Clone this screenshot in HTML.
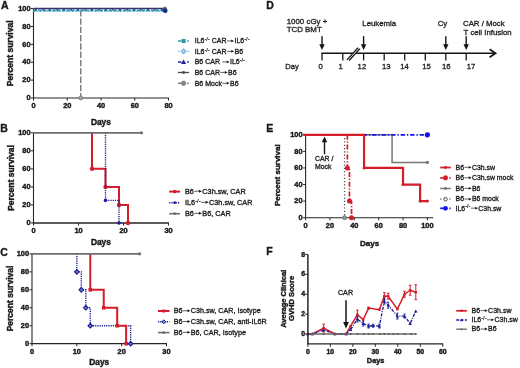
<!DOCTYPE html>
<html><head><meta charset="utf-8"><style>
html,body{margin:0;padding:0;background:#fff;}
svg{display:block;font-family:"Liberation Sans", sans-serif;will-change:transform;}
</style></head><body>
<svg width="520" height="368" viewBox="0 0 520 368">
<rect width="520" height="368" fill="#fff"/>
<text x="0.90" y="8.80" font-size="10.5" font-weight="bold" text-anchor="start" fill="#1a1a1a" stroke="#1a1a1a" stroke-width="0.35">A</text>
<line x1="33.50" y1="8.60" x2="33.50" y2="98.00" stroke="#262626" stroke-width="1.1" stroke-linecap="butt"/>
<line x1="31.00" y1="98.00" x2="33.50" y2="98.00" stroke="#262626" stroke-width="1.0" stroke-linecap="butt"/>
<text x="30.50" y="100.25" font-size="7.4" font-weight="bold" text-anchor="end" fill="#1a1a1a" stroke="#1a1a1a" stroke-width="0.42">0</text>
<line x1="31.00" y1="80.12" x2="33.50" y2="80.12" stroke="#262626" stroke-width="1.0" stroke-linecap="butt"/>
<text x="30.50" y="82.37" font-size="7.4" font-weight="bold" text-anchor="end" fill="#1a1a1a" stroke="#1a1a1a" stroke-width="0.42">20</text>
<line x1="31.00" y1="62.24" x2="33.50" y2="62.24" stroke="#262626" stroke-width="1.0" stroke-linecap="butt"/>
<text x="30.50" y="64.49" font-size="7.4" font-weight="bold" text-anchor="end" fill="#1a1a1a" stroke="#1a1a1a" stroke-width="0.42">40</text>
<line x1="31.00" y1="44.36" x2="33.50" y2="44.36" stroke="#262626" stroke-width="1.0" stroke-linecap="butt"/>
<text x="30.50" y="46.61" font-size="7.4" font-weight="bold" text-anchor="end" fill="#1a1a1a" stroke="#1a1a1a" stroke-width="0.42">60</text>
<line x1="31.00" y1="26.48" x2="33.50" y2="26.48" stroke="#262626" stroke-width="1.0" stroke-linecap="butt"/>
<text x="30.50" y="28.73" font-size="7.4" font-weight="bold" text-anchor="end" fill="#1a1a1a" stroke="#1a1a1a" stroke-width="0.42">80</text>
<line x1="31.00" y1="8.60" x2="33.50" y2="8.60" stroke="#262626" stroke-width="1.0" stroke-linecap="butt"/>
<text x="30.50" y="10.85" font-size="7.4" font-weight="bold" text-anchor="end" fill="#1a1a1a" stroke="#1a1a1a" stroke-width="0.42">100</text>
<line x1="32.95" y1="98.00" x2="169.00" y2="98.00" stroke="#262626" stroke-width="1.1" stroke-linecap="butt"/>
<line x1="33.50" y1="98.00" x2="33.50" y2="100.60" stroke="#262626" stroke-width="1.0" stroke-linecap="butt"/>
<text x="33.50" y="107.90" font-size="7.4" font-weight="bold" text-anchor="middle" fill="#1a1a1a" stroke="#1a1a1a" stroke-width="0.42">0</text>
<line x1="67.25" y1="98.00" x2="67.25" y2="100.60" stroke="#262626" stroke-width="1.0" stroke-linecap="butt"/>
<text x="67.25" y="107.90" font-size="7.4" font-weight="bold" text-anchor="middle" fill="#1a1a1a" stroke="#1a1a1a" stroke-width="0.42">20</text>
<line x1="101.00" y1="98.00" x2="101.00" y2="100.60" stroke="#262626" stroke-width="1.0" stroke-linecap="butt"/>
<text x="101.00" y="107.90" font-size="7.4" font-weight="bold" text-anchor="middle" fill="#1a1a1a" stroke="#1a1a1a" stroke-width="0.42">40</text>
<line x1="134.75" y1="98.00" x2="134.75" y2="100.60" stroke="#262626" stroke-width="1.0" stroke-linecap="butt"/>
<text x="134.75" y="107.90" font-size="7.4" font-weight="bold" text-anchor="middle" fill="#1a1a1a" stroke="#1a1a1a" stroke-width="0.42">60</text>
<line x1="168.50" y1="98.00" x2="168.50" y2="100.60" stroke="#262626" stroke-width="1.0" stroke-linecap="butt"/>
<text x="168.50" y="107.90" font-size="7.4" font-weight="bold" text-anchor="middle" fill="#1a1a1a" stroke="#1a1a1a" stroke-width="0.42">80</text>
<line x1="80.75" y1="10.10" x2="80.75" y2="98.00" stroke="#7a7a7a" stroke-width="1.4" stroke-linecap="butt" stroke-dasharray="6.4,1.9"/>
<line x1="33.50" y1="11.40" x2="163.50" y2="11.40" stroke="#7cc6ea" stroke-width="1.3" stroke-linecap="butt" stroke-dasharray="2,1.2"/>
<line x1="33.50" y1="10.30" x2="163.50" y2="10.30" stroke="#2a95a6" stroke-width="1.7" stroke-linecap="butt" stroke-dasharray="3.5,1.2"/>
<line x1="35.00" y1="9.80" x2="163.50" y2="9.80" stroke="#1c2a8c" stroke-width="1.0" stroke-linecap="butt" stroke-dasharray="2,5"/>
<line x1="33.50" y1="8.50" x2="163.50" y2="8.50" stroke="#3a3472" stroke-width="1.4" stroke-linecap="butt"/>
<circle cx="80.75" cy="98.00" r="1.9" fill="#a8a8a8" stroke="#707070" stroke-width="0.8"/>
<circle cx="165.00" cy="8.00" r="1.6" fill="#5a665e" stroke="none" stroke-width="0"/>
<circle cx="165.20" cy="10.70" r="2.4" fill="#142a88" stroke="none" stroke-width="0"/>
<text x="100.90" y="124.90" font-size="8.4" font-weight="bold" text-anchor="middle" fill="#1a1a1a" stroke="#1a1a1a" stroke-width="0.42">Days</text>
<text transform="translate(13.40,53.30) rotate(-90)" font-size="8.5" font-weight="bold" text-anchor="middle" fill="#1a1a1a" stroke="#1a1a1a" stroke-width="0.42">Percent survival</text>
<text x="194.70" y="43.30" font-size="7.0" fill="#1c1c1c" stroke="#1c1c1c" stroke-width="0.32" xml:space="preserve">IL6</text>
<text x="204.43" y="41.20" font-size="5.60" fill="#1c1c1c" stroke="#1c1c1c" stroke-width="0.22399999999999998">-/-</text>
<text x="209.72" y="43.30" font-size="7.0" fill="#1c1c1c" stroke="#1c1c1c" stroke-width="0.32" xml:space="preserve"> CAR</text>
<line x1="226.86" y1="40.92" x2="232.24" y2="40.92" stroke="#1c1c1c" stroke-width="0.7000000000000001" stroke-linecap="butt"/>
<polygon points="231.27,39.52 234.09,40.92 231.27,42.32" fill="#1c1c1c"/>
<text x="234.49" y="43.30" font-size="7.0" fill="#1c1c1c" stroke="#1c1c1c" stroke-width="0.32" xml:space="preserve">IL6</text>
<text x="244.22" y="41.20" font-size="5.60" fill="#1c1c1c" stroke="#1c1c1c" stroke-width="0.22399999999999998">-/-</text>
<text x="194.70" y="53.70" font-size="7.0" fill="#1c1c1c" stroke="#1c1c1c" stroke-width="0.32" xml:space="preserve">IL6</text>
<text x="204.43" y="51.60" font-size="5.60" fill="#1c1c1c" stroke="#1c1c1c" stroke-width="0.22399999999999998">-/-</text>
<text x="209.72" y="53.70" font-size="7.0" fill="#1c1c1c" stroke="#1c1c1c" stroke-width="0.32" xml:space="preserve"> CAR</text>
<line x1="226.86" y1="51.32" x2="232.24" y2="51.32" stroke="#1c1c1c" stroke-width="0.7000000000000001" stroke-linecap="butt"/>
<polygon points="231.27,49.92 234.09,51.32 231.27,52.72" fill="#1c1c1c"/>
<text x="234.49" y="53.70" font-size="7.0" fill="#1c1c1c" stroke="#1c1c1c" stroke-width="0.32" xml:space="preserve">B6</text>
<text x="194.70" y="64.30" font-size="7.0" fill="#1c1c1c" stroke="#1c1c1c" stroke-width="0.32" xml:space="preserve">B6 CAR </text>
<line x1="222.35" y1="61.92" x2="227.73" y2="61.92" stroke="#1c1c1c" stroke-width="0.7000000000000001" stroke-linecap="butt"/>
<polygon points="226.76,60.52 229.58,61.92 226.76,63.32" fill="#1c1c1c"/>
<text x="229.98" y="64.30" font-size="7.0" fill="#1c1c1c" stroke="#1c1c1c" stroke-width="0.32" xml:space="preserve">IL6</text>
<text x="239.71" y="62.20" font-size="5.60" fill="#1c1c1c" stroke="#1c1c1c" stroke-width="0.22399999999999998">-/-</text>
<text x="194.70" y="74.80" font-size="7.0" fill="#1c1c1c" stroke="#1c1c1c" stroke-width="0.32" xml:space="preserve">B6 CAR</text>
<line x1="220.41" y1="72.42" x2="225.78" y2="72.42" stroke="#1c1c1c" stroke-width="0.7000000000000001" stroke-linecap="butt"/>
<polygon points="224.82,71.02 227.63,72.42 224.82,73.82" fill="#1c1c1c"/>
<text x="228.04" y="74.80" font-size="7.0" fill="#1c1c1c" stroke="#1c1c1c" stroke-width="0.32" xml:space="preserve">B6</text>
<text x="194.70" y="85.60" font-size="7.0" fill="#1c1c1c" stroke="#1c1c1c" stroke-width="0.32" xml:space="preserve">B6 Mock</text>
<line x1="222.35" y1="83.22" x2="227.73" y2="83.22" stroke="#1c1c1c" stroke-width="0.7000000000000001" stroke-linecap="butt"/>
<polygon points="226.76,81.82 229.58,83.22 226.76,84.62" fill="#1c1c1c"/>
<text x="229.98" y="85.60" font-size="7.0" fill="#1c1c1c" stroke="#1c1c1c" stroke-width="0.32" xml:space="preserve">B6</text>
<line x1="178.00" y1="41.00" x2="181.50" y2="41.00" stroke="#2a95a6" stroke-width="1.5" stroke-linecap="butt"/>
<line x1="187.20" y1="41.00" x2="188.80" y2="41.00" stroke="#2a95a6" stroke-width="1.5" stroke-linecap="butt"/>
<rect x="181.60" y="39.00" width="4.0" height="4.0" fill="#2a95a6"/>
<line x1="178.00" y1="51.40" x2="179.30" y2="51.40" stroke="#6ab0e4" stroke-width="1.3" stroke-linecap="butt"/>
<line x1="187.50" y1="51.40" x2="188.80" y2="51.40" stroke="#6ab0e4" stroke-width="1.3" stroke-linecap="butt"/>
<polygon points="183.60,49.00 186.00,51.40 183.60,53.80 181.20,51.40" fill="#b8d8f2" stroke="#6ab0e4" stroke-width="1.1"/>
<line x1="178.00" y1="62.00" x2="181.50" y2="62.00" stroke="#1d1d98" stroke-width="1.5" stroke-linecap="butt"/>
<line x1="187.20" y1="62.00" x2="188.80" y2="62.00" stroke="#1d1d98" stroke-width="1.5" stroke-linecap="butt"/>
<polygon points="183.60,59.50 186.10,64.00 181.10,64.00" fill="#1d1d98"/>
<line x1="178.00" y1="72.50" x2="181.50" y2="72.50" stroke="#4a4a4a" stroke-width="1.3" stroke-linecap="butt"/>
<line x1="185.50" y1="72.50" x2="189.00" y2="72.50" stroke="#4a4a4a" stroke-width="1.3" stroke-linecap="butt"/>
<line x1="181.00" y1="72.50" x2="186.00" y2="72.50" stroke="#4a4a4a" stroke-width="1.3" stroke-linecap="butt"/>
<circle cx="183.60" cy="72.50" r="1.4" fill="#4a4a4a" stroke="none" stroke-width="0"/>
<line x1="178.00" y1="83.30" x2="181.50" y2="83.30" stroke="#7a7a7a" stroke-width="1.5" stroke-linecap="butt"/>
<line x1="187.20" y1="83.30" x2="188.80" y2="83.30" stroke="#7a7a7a" stroke-width="1.5" stroke-linecap="butt"/>
<circle cx="183.60" cy="83.30" r="2.2" fill="#8a8a8a" stroke="#666" stroke-width="0.6"/>
<text x="0.30" y="132.30" font-size="10.5" font-weight="bold" text-anchor="start" fill="#1a1a1a" stroke="#1a1a1a" stroke-width="0.35">B</text>
<line x1="33.50" y1="132.80" x2="33.50" y2="222.95" stroke="#262626" stroke-width="1.1" stroke-linecap="butt"/>
<line x1="31.00" y1="222.95" x2="33.50" y2="222.95" stroke="#262626" stroke-width="1.0" stroke-linecap="butt"/>
<text x="30.50" y="225.20" font-size="7.4" font-weight="bold" text-anchor="end" fill="#1a1a1a" stroke="#1a1a1a" stroke-width="0.42">0</text>
<line x1="31.00" y1="204.92" x2="33.50" y2="204.92" stroke="#262626" stroke-width="1.0" stroke-linecap="butt"/>
<text x="30.50" y="207.17" font-size="7.4" font-weight="bold" text-anchor="end" fill="#1a1a1a" stroke="#1a1a1a" stroke-width="0.42">20</text>
<line x1="31.00" y1="186.89" x2="33.50" y2="186.89" stroke="#262626" stroke-width="1.0" stroke-linecap="butt"/>
<text x="30.50" y="189.14" font-size="7.4" font-weight="bold" text-anchor="end" fill="#1a1a1a" stroke="#1a1a1a" stroke-width="0.42">40</text>
<line x1="31.00" y1="168.86" x2="33.50" y2="168.86" stroke="#262626" stroke-width="1.0" stroke-linecap="butt"/>
<text x="30.50" y="171.11" font-size="7.4" font-weight="bold" text-anchor="end" fill="#1a1a1a" stroke="#1a1a1a" stroke-width="0.42">60</text>
<line x1="31.00" y1="150.83" x2="33.50" y2="150.83" stroke="#262626" stroke-width="1.0" stroke-linecap="butt"/>
<text x="30.50" y="153.08" font-size="7.4" font-weight="bold" text-anchor="end" fill="#1a1a1a" stroke="#1a1a1a" stroke-width="0.42">80</text>
<line x1="31.00" y1="132.80" x2="33.50" y2="132.80" stroke="#262626" stroke-width="1.0" stroke-linecap="butt"/>
<text x="30.50" y="135.05" font-size="7.4" font-weight="bold" text-anchor="end" fill="#1a1a1a" stroke="#1a1a1a" stroke-width="0.42">100</text>
<line x1="32.95" y1="222.95" x2="169.00" y2="222.95" stroke="#262626" stroke-width="1.5" stroke-linecap="butt"/>
<line x1="33.50" y1="222.95" x2="33.50" y2="225.55" stroke="#262626" stroke-width="1.0" stroke-linecap="butt"/>
<text x="33.50" y="232.85" font-size="7.4" font-weight="bold" text-anchor="middle" fill="#1a1a1a" stroke="#1a1a1a" stroke-width="0.42">0</text>
<line x1="78.50" y1="222.95" x2="78.50" y2="225.55" stroke="#262626" stroke-width="1.0" stroke-linecap="butt"/>
<text x="78.50" y="232.85" font-size="7.4" font-weight="bold" text-anchor="middle" fill="#1a1a1a" stroke="#1a1a1a" stroke-width="0.42">10</text>
<line x1="123.50" y1="222.95" x2="123.50" y2="225.55" stroke="#262626" stroke-width="1.0" stroke-linecap="butt"/>
<text x="123.50" y="232.85" font-size="7.4" font-weight="bold" text-anchor="middle" fill="#1a1a1a" stroke="#1a1a1a" stroke-width="0.42">20</text>
<line x1="168.50" y1="222.95" x2="168.50" y2="225.55" stroke="#262626" stroke-width="1.0" stroke-linecap="butt"/>
<text x="168.50" y="232.85" font-size="7.4" font-weight="bold" text-anchor="middle" fill="#1a1a1a" stroke="#1a1a1a" stroke-width="0.42">30</text>
<polyline points="92.00,132.80 92.00,132.80 92.00,132.80 92.00,168.86 105.50,168.86 105.50,186.89 119.00,186.89 119.00,204.92 128.00,204.92 128.00,222.95" fill="none" stroke="#d41d2a" stroke-width="2.0" stroke-linejoin="miter"/>
<circle cx="92.00" cy="168.86" r="2.2" fill="#d41d2a" stroke="none" stroke-width="0"/>
<circle cx="105.50" cy="186.89" r="2.2" fill="#d41d2a" stroke="none" stroke-width="0"/>
<circle cx="119.00" cy="204.92" r="2.2" fill="#d41d2a" stroke="none" stroke-width="0"/>
<circle cx="128.00" cy="222.95" r="2.2" fill="#d41d2a" stroke="none" stroke-width="0"/>
<polyline points="105.50,132.80 105.50,132.80 105.50,200.41 119.00,200.41 119.00,222.95" fill="none" stroke="#1d1d98" stroke-width="1.4" stroke-linejoin="miter" stroke-dasharray="1.2,1.0"/>
<circle cx="105.50" cy="200.41" r="1.8" fill="#1d1d98" stroke="none" stroke-width="0"/>
<circle cx="119.00" cy="222.95" r="1.8" fill="#1d1d98" stroke="none" stroke-width="0"/>
<line x1="33.50" y1="132.80" x2="141.50" y2="132.80" stroke="#6c6c6c" stroke-width="1.7" stroke-linecap="butt"/>
<circle cx="141.50" cy="132.80" r="1.6" fill="#6c6c6c" stroke="none" stroke-width="0"/>
<text x="100.90" y="244.50" font-size="8.4" font-weight="bold" text-anchor="middle" fill="#1a1a1a" stroke="#1a1a1a" stroke-width="0.42">Days</text>
<text transform="translate(13.60,178.00) rotate(-90)" font-size="8.5" font-weight="bold" text-anchor="middle" fill="#1a1a1a" stroke="#1a1a1a" stroke-width="0.42">Percent survival</text>
<line x1="169.20" y1="191.60" x2="180.10" y2="191.60" stroke="#d41d2a" stroke-width="2.0" stroke-linecap="butt"/>
<circle cx="174.70" cy="191.60" r="1.8" fill="#d41d2a" stroke="none" stroke-width="0"/>
<line x1="169.20" y1="202.70" x2="180.10" y2="202.70" stroke="#1d1d98" stroke-width="1.4" stroke-linecap="butt" stroke-dasharray="1.2,1.0"/>
<circle cx="174.70" cy="202.70" r="1.4" fill="#1d1d98" stroke="none" stroke-width="0"/>
<line x1="169.20" y1="213.70" x2="180.10" y2="213.70" stroke="#6c6c6c" stroke-width="1.6" stroke-linecap="butt"/>
<circle cx="174.70" cy="213.70" r="1.4" fill="#6c6c6c" stroke="none" stroke-width="0"/>
<text x="185.00" y="193.70" font-size="7.3" fill="#1c1c1c" stroke="#1c1c1c" stroke-width="0.32" xml:space="preserve">B6</text>
<line x1="194.37" y1="191.22" x2="199.97" y2="191.22" stroke="#1c1c1c" stroke-width="0.73" stroke-linecap="butt"/>
<polygon points="198.97,189.76 201.90,191.22 198.97,192.68" fill="#1c1c1c"/>
<text x="202.32" y="193.70" font-size="7.3" fill="#1c1c1c" stroke="#1c1c1c" stroke-width="0.32" xml:space="preserve">C3h.sw, CAR</text>
<text x="185.00" y="204.80" font-size="7.3" fill="#1c1c1c" stroke="#1c1c1c" stroke-width="0.32" xml:space="preserve">IL6</text>
<text x="195.15" y="202.61" font-size="5.84" fill="#1c1c1c" stroke="#1c1c1c" stroke-width="0.22399999999999998">-/-</text>
<line x1="201.10" y1="202.32" x2="206.70" y2="202.32" stroke="#1c1c1c" stroke-width="0.73" stroke-linecap="butt"/>
<polygon points="205.70,200.86 208.64,202.32 205.70,203.78" fill="#1c1c1c"/>
<text x="209.06" y="204.80" font-size="7.3" fill="#1c1c1c" stroke="#1c1c1c" stroke-width="0.32" xml:space="preserve">C3h.sw, CAR</text>
<text x="185.00" y="215.80" font-size="7.3" fill="#1c1c1c" stroke="#1c1c1c" stroke-width="0.32" xml:space="preserve">B6</text>
<line x1="194.37" y1="213.32" x2="199.97" y2="213.32" stroke="#1c1c1c" stroke-width="0.73" stroke-linecap="butt"/>
<polygon points="198.97,211.86 201.90,213.32 198.97,214.78" fill="#1c1c1c"/>
<text x="202.32" y="215.80" font-size="7.3" fill="#1c1c1c" stroke="#1c1c1c" stroke-width="0.32" xml:space="preserve">B6, CAR</text>
<text x="0.20" y="255.50" font-size="10.5" font-weight="bold" text-anchor="start" fill="#1a1a1a" stroke="#1a1a1a" stroke-width="0.35">C</text>
<line x1="32.00" y1="253.90" x2="32.00" y2="343.70" stroke="#262626" stroke-width="1.1" stroke-linecap="butt"/>
<line x1="29.50" y1="343.70" x2="32.00" y2="343.70" stroke="#262626" stroke-width="1.0" stroke-linecap="butt"/>
<text x="29.00" y="345.95" font-size="7.4" font-weight="bold" text-anchor="end" fill="#1a1a1a" stroke="#1a1a1a" stroke-width="0.42">0</text>
<line x1="29.50" y1="325.74" x2="32.00" y2="325.74" stroke="#262626" stroke-width="1.0" stroke-linecap="butt"/>
<text x="29.00" y="327.99" font-size="7.4" font-weight="bold" text-anchor="end" fill="#1a1a1a" stroke="#1a1a1a" stroke-width="0.42">20</text>
<line x1="29.50" y1="307.78" x2="32.00" y2="307.78" stroke="#262626" stroke-width="1.0" stroke-linecap="butt"/>
<text x="29.00" y="310.03" font-size="7.4" font-weight="bold" text-anchor="end" fill="#1a1a1a" stroke="#1a1a1a" stroke-width="0.42">40</text>
<line x1="29.50" y1="289.82" x2="32.00" y2="289.82" stroke="#262626" stroke-width="1.0" stroke-linecap="butt"/>
<text x="29.00" y="292.07" font-size="7.4" font-weight="bold" text-anchor="end" fill="#1a1a1a" stroke="#1a1a1a" stroke-width="0.42">60</text>
<line x1="29.50" y1="271.86" x2="32.00" y2="271.86" stroke="#262626" stroke-width="1.0" stroke-linecap="butt"/>
<text x="29.00" y="274.11" font-size="7.4" font-weight="bold" text-anchor="end" fill="#1a1a1a" stroke="#1a1a1a" stroke-width="0.42">80</text>
<line x1="29.50" y1="253.90" x2="32.00" y2="253.90" stroke="#262626" stroke-width="1.0" stroke-linecap="butt"/>
<text x="29.00" y="256.15" font-size="7.4" font-weight="bold" text-anchor="end" fill="#1a1a1a" stroke="#1a1a1a" stroke-width="0.42">100</text>
<line x1="31.45" y1="343.70" x2="166.99" y2="343.70" stroke="#262626" stroke-width="1.3" stroke-linecap="butt"/>
<line x1="32.00" y1="343.70" x2="32.00" y2="346.30" stroke="#262626" stroke-width="1.0" stroke-linecap="butt"/>
<text x="32.00" y="353.60" font-size="7.4" font-weight="bold" text-anchor="middle" fill="#1a1a1a" stroke="#1a1a1a" stroke-width="0.42">0</text>
<line x1="76.83" y1="343.70" x2="76.83" y2="346.30" stroke="#262626" stroke-width="1.0" stroke-linecap="butt"/>
<text x="76.83" y="353.60" font-size="7.4" font-weight="bold" text-anchor="middle" fill="#1a1a1a" stroke="#1a1a1a" stroke-width="0.42">10</text>
<line x1="121.66" y1="343.70" x2="121.66" y2="346.30" stroke="#262626" stroke-width="1.0" stroke-linecap="butt"/>
<text x="121.66" y="353.60" font-size="7.4" font-weight="bold" text-anchor="middle" fill="#1a1a1a" stroke="#1a1a1a" stroke-width="0.42">20</text>
<line x1="166.49" y1="343.70" x2="166.49" y2="346.30" stroke="#262626" stroke-width="1.0" stroke-linecap="butt"/>
<text x="166.49" y="353.60" font-size="7.4" font-weight="bold" text-anchor="middle" fill="#1a1a1a" stroke="#1a1a1a" stroke-width="0.42">30</text>
<polyline points="76.83,253.90 76.83,253.90 76.83,271.86 81.31,271.86 81.31,289.82 85.80,289.82 85.80,307.78 90.28,307.78 90.28,325.74 130.63,325.74 130.63,343.70" fill="none" stroke="#1d1d98" stroke-width="1.4" stroke-linejoin="miter" stroke-dasharray="1.2,1.0"/>
<polyline points="90.28,253.90 90.28,253.90 90.28,253.90 90.28,289.82 103.73,289.82 103.73,307.78 117.18,307.78 117.18,325.74 126.14,325.74 126.14,343.70" fill="none" stroke="#d41d2a" stroke-width="2.0" stroke-linejoin="miter"/>
<rect x="88.48" y="288.02" width="3.6" height="3.6" fill="#d41d2a"/>
<rect x="101.93" y="305.98" width="3.6" height="3.6" fill="#d41d2a"/>
<rect x="115.38" y="323.94" width="3.6" height="3.6" fill="#d41d2a"/>
<rect x="124.34" y="341.90" width="3.6" height="3.6" fill="#d41d2a"/>
<polygon points="76.83,269.56 79.13,271.86 76.83,274.16 74.53,271.86" fill="#6c78cc" stroke="#1d1d98" stroke-width="1.1"/>
<polygon points="81.31,287.52 83.61,289.82 81.31,292.12 79.01,289.82" fill="#6c78cc" stroke="#1d1d98" stroke-width="1.1"/>
<polygon points="85.80,305.48 88.10,307.78 85.80,310.08 83.50,307.78" fill="#6c78cc" stroke="#1d1d98" stroke-width="1.1"/>
<polygon points="90.28,323.44 92.58,325.74 90.28,328.04 87.98,325.74" fill="#6c78cc" stroke="#1d1d98" stroke-width="1.1"/>
<polygon points="130.63,341.40 132.93,343.70 130.63,346.00 128.33,343.70" fill="#6c78cc" stroke="#1d1d98" stroke-width="1.1"/>
<line x1="32.00" y1="253.90" x2="139.59" y2="253.90" stroke="#6c6c6c" stroke-width="1.7" stroke-linecap="butt"/>
<circle cx="139.59" cy="253.90" r="1.6" fill="#6c6c6c" stroke="none" stroke-width="0"/>
<text x="99.20" y="365.00" font-size="8.4" font-weight="bold" text-anchor="middle" fill="#1a1a1a" stroke="#1a1a1a" stroke-width="0.42">Days</text>
<text transform="translate(12.50,298.50) rotate(-90)" font-size="8.5" font-weight="bold" text-anchor="middle" fill="#1a1a1a" stroke="#1a1a1a" stroke-width="0.42">Percent survival</text>
<line x1="158.00" y1="311.00" x2="169.50" y2="311.00" stroke="#d41d2a" stroke-width="2.0" stroke-linecap="butt"/>
<rect x="162.20" y="309.50" width="3.0" height="3.0" fill="#d41d2a"/>
<line x1="158.00" y1="321.80" x2="169.50" y2="321.80" stroke="#1d1d98" stroke-width="1.4" stroke-linecap="butt" stroke-dasharray="1.2,1.0"/>
<polygon points="163.70,319.80 165.70,321.80 163.70,323.80 161.70,321.80" fill="#7c88d4" stroke="#1d1d98" stroke-width="1.0"/>
<line x1="158.00" y1="332.60" x2="169.50" y2="332.60" stroke="#6c6c6c" stroke-width="1.6" stroke-linecap="butt"/>
<circle cx="163.70" cy="332.60" r="1.4" fill="#6c6c6c" stroke="none" stroke-width="0"/>
<text x="173.70" y="313.20" font-size="7.2" fill="#1c1c1c" stroke="#1c1c1c" stroke-width="0.32" xml:space="preserve">B6</text>
<line x1="182.94" y1="310.75" x2="188.47" y2="310.75" stroke="#1c1c1c" stroke-width="0.7200000000000001" stroke-linecap="butt"/>
<polygon points="187.48,309.31 190.37,310.75 187.48,312.19" fill="#1c1c1c"/>
<text x="190.79" y="313.20" font-size="7.2" fill="#1c1c1c" stroke="#1c1c1c" stroke-width="0.32" xml:space="preserve">C3h.sw, CAR, Isotype</text>
<text x="173.70" y="324.00" font-size="7.2" fill="#1c1c1c" stroke="#1c1c1c" stroke-width="0.32" xml:space="preserve">B6</text>
<line x1="182.94" y1="321.55" x2="188.47" y2="321.55" stroke="#1c1c1c" stroke-width="0.7200000000000001" stroke-linecap="butt"/>
<polygon points="187.48,320.11 190.37,321.55 187.48,322.99" fill="#1c1c1c"/>
<text x="190.79" y="324.00" font-size="7.2" fill="#1c1c1c" stroke="#1c1c1c" stroke-width="0.32" xml:space="preserve">C3h.sw, CAR, anti-IL6R</text>
<text x="173.70" y="334.80" font-size="7.2" fill="#1c1c1c" stroke="#1c1c1c" stroke-width="0.32" xml:space="preserve">B6</text>
<line x1="182.94" y1="332.35" x2="188.47" y2="332.35" stroke="#1c1c1c" stroke-width="0.7200000000000001" stroke-linecap="butt"/>
<polygon points="187.48,330.91 190.37,332.35 187.48,333.79" fill="#1c1c1c"/>
<text x="190.79" y="334.80" font-size="7.2" fill="#1c1c1c" stroke="#1c1c1c" stroke-width="0.32" xml:space="preserve">B6, CAR, Isotype</text>
<text x="266.30" y="9.00" font-size="10.5" font-weight="bold" text-anchor="start" fill="#1a1a1a" stroke="#1a1a1a" stroke-width="0.35">D</text>
<line x1="321.30" y1="53.20" x2="494.00" y2="53.20" stroke="#141414" stroke-width="1.6" stroke-linecap="butt"/>
<polyline points="489.6,49.2 495.6,53.2 489.6,57.2" fill="none" stroke="#141414" stroke-width="1.7"/>
<line x1="322.00" y1="53.20" x2="322.00" y2="60.40" stroke="#141414" stroke-width="1.3" stroke-linecap="butt"/>
<text x="320.60" y="69.20" font-size="7.7" font-weight="normal" text-anchor="middle" fill="#1e1e1e" stroke="#1e1e1e" stroke-width="0.32">0</text>
<line x1="342.80" y1="53.20" x2="342.80" y2="60.40" stroke="#141414" stroke-width="1.3" stroke-linecap="butt"/>
<text x="340.70" y="69.20" font-size="7.7" font-weight="normal" text-anchor="middle" fill="#1e1e1e" stroke="#1e1e1e" stroke-width="0.32">1</text>
<line x1="363.60" y1="53.20" x2="363.60" y2="60.40" stroke="#141414" stroke-width="1.3" stroke-linecap="butt"/>
<text x="361.90" y="69.20" font-size="7.7" font-weight="normal" text-anchor="middle" fill="#1e1e1e" stroke="#1e1e1e" stroke-width="0.32">12</text>
<line x1="384.20" y1="53.20" x2="384.20" y2="60.40" stroke="#141414" stroke-width="1.3" stroke-linecap="butt"/>
<text x="386.20" y="69.20" font-size="7.7" font-weight="normal" text-anchor="middle" fill="#1e1e1e" stroke="#1e1e1e" stroke-width="0.32">13</text>
<line x1="404.70" y1="53.20" x2="404.70" y2="60.40" stroke="#141414" stroke-width="1.3" stroke-linecap="butt"/>
<text x="404.50" y="69.20" font-size="7.7" font-weight="normal" text-anchor="middle" fill="#1e1e1e" stroke="#1e1e1e" stroke-width="0.32">14</text>
<line x1="425.30" y1="53.20" x2="425.30" y2="60.40" stroke="#141414" stroke-width="1.3" stroke-linecap="butt"/>
<text x="426.50" y="69.20" font-size="7.7" font-weight="normal" text-anchor="middle" fill="#1e1e1e" stroke="#1e1e1e" stroke-width="0.32">15</text>
<line x1="445.80" y1="53.20" x2="445.80" y2="60.40" stroke="#141414" stroke-width="1.3" stroke-linecap="butt"/>
<text x="446.30" y="69.20" font-size="7.7" font-weight="normal" text-anchor="middle" fill="#1e1e1e" stroke="#1e1e1e" stroke-width="0.32">16</text>
<line x1="466.20" y1="53.20" x2="466.20" y2="60.40" stroke="#141414" stroke-width="1.3" stroke-linecap="butt"/>
<text x="471.10" y="69.20" font-size="7.7" font-weight="normal" text-anchor="middle" fill="#1e1e1e" stroke="#1e1e1e" stroke-width="0.32">17</text>
<text x="285.30" y="69.20" font-size="7.6" font-weight="normal" text-anchor="start" fill="#1e1e1e" stroke="#1e1e1e" stroke-width="0.32">Day</text>
<line x1="347.90" y1="60.20" x2="359.10" y2="48.10" stroke="#fff" stroke-width="2.6" stroke-linecap="butt"/>
<line x1="346.90" y1="59.90" x2="358.10" y2="47.70" stroke="#141414" stroke-width="1.3" stroke-linecap="butt"/>
<line x1="349.10" y1="60.50" x2="360.00" y2="48.60" stroke="#141414" stroke-width="1.3" stroke-linecap="butt"/>
<line x1="322.00" y1="36.20" x2="322.00" y2="47.00" stroke="#141414" stroke-width="1.4" stroke-linecap="butt"/>
<polygon points="319.30,44.20 324.70,44.20 322.00,50.00" fill="#141414"/>
<line x1="363.60" y1="36.20" x2="363.60" y2="47.00" stroke="#141414" stroke-width="1.4" stroke-linecap="butt"/>
<polygon points="360.90,44.20 366.30,44.20 363.60,50.00" fill="#141414"/>
<line x1="445.80" y1="36.20" x2="445.80" y2="47.00" stroke="#141414" stroke-width="1.4" stroke-linecap="butt"/>
<polygon points="443.10,44.20 448.50,44.20 445.80,50.00" fill="#141414"/>
<line x1="466.20" y1="36.20" x2="466.20" y2="47.00" stroke="#141414" stroke-width="1.4" stroke-linecap="butt"/>
<polygon points="463.50,44.20 468.90,44.20 466.20,50.00" fill="#141414"/>
<text x="286.70" y="23.50" font-size="7.9" font-weight="normal" text-anchor="start" fill="#1e1e1e" stroke="#1e1e1e" stroke-width="0.32">1000 cGy +</text>
<text x="286.70" y="31.80" font-size="7.9" font-weight="normal" text-anchor="start" fill="#1e1e1e" stroke="#1e1e1e" stroke-width="0.32">TCD BMT</text>
<text x="362.30" y="26.00" font-size="7.8" font-weight="normal" text-anchor="start" fill="#1e1e1e" stroke="#1e1e1e" stroke-width="0.32">Leukemia</text>
<text x="437.70" y="25.90" font-size="7.8" font-weight="normal" text-anchor="start" fill="#1e1e1e" stroke="#1e1e1e" stroke-width="0.32">Cy</text>
<text x="463.00" y="25.90" font-size="7.8" font-weight="normal" text-anchor="start" fill="#1e1e1e" stroke="#1e1e1e" stroke-width="0.32">CAR / Mock</text>
<text x="463.60" y="34.70" font-size="7.8" font-weight="normal" text-anchor="start" fill="#1e1e1e" stroke="#1e1e1e" stroke-width="0.32">T cell Infusion</text>
<text x="266.30" y="132.40" font-size="10.5" font-weight="bold" text-anchor="start" fill="#1a1a1a" stroke="#1a1a1a" stroke-width="0.35">E</text>
<line x1="305.60" y1="134.80" x2="305.60" y2="217.70" stroke="#262626" stroke-width="1.1" stroke-linecap="butt"/>
<line x1="303.10" y1="217.70" x2="305.60" y2="217.70" stroke="#262626" stroke-width="1.0" stroke-linecap="butt"/>
<text x="302.60" y="219.95" font-size="7.4" font-weight="bold" text-anchor="end" fill="#1a1a1a" stroke="#1a1a1a" stroke-width="0.42">0</text>
<line x1="303.10" y1="201.12" x2="305.60" y2="201.12" stroke="#262626" stroke-width="1.0" stroke-linecap="butt"/>
<text x="302.60" y="203.37" font-size="7.4" font-weight="bold" text-anchor="end" fill="#1a1a1a" stroke="#1a1a1a" stroke-width="0.42">20</text>
<line x1="303.10" y1="184.54" x2="305.60" y2="184.54" stroke="#262626" stroke-width="1.0" stroke-linecap="butt"/>
<text x="302.60" y="186.79" font-size="7.4" font-weight="bold" text-anchor="end" fill="#1a1a1a" stroke="#1a1a1a" stroke-width="0.42">40</text>
<line x1="303.10" y1="167.96" x2="305.60" y2="167.96" stroke="#262626" stroke-width="1.0" stroke-linecap="butt"/>
<text x="302.60" y="170.21" font-size="7.4" font-weight="bold" text-anchor="end" fill="#1a1a1a" stroke="#1a1a1a" stroke-width="0.42">60</text>
<line x1="303.10" y1="151.38" x2="305.60" y2="151.38" stroke="#262626" stroke-width="1.0" stroke-linecap="butt"/>
<text x="302.60" y="153.63" font-size="7.4" font-weight="bold" text-anchor="end" fill="#1a1a1a" stroke="#1a1a1a" stroke-width="0.42">80</text>
<line x1="303.10" y1="134.80" x2="305.60" y2="134.80" stroke="#262626" stroke-width="1.0" stroke-linecap="butt"/>
<text x="302.60" y="137.05" font-size="7.4" font-weight="bold" text-anchor="end" fill="#1a1a1a" stroke="#1a1a1a" stroke-width="0.42">100</text>
<line x1="305.05" y1="217.70" x2="433.30" y2="217.70" stroke="#262626" stroke-width="1.1" stroke-linecap="butt"/>
<line x1="305.60" y1="217.70" x2="305.60" y2="220.30" stroke="#262626" stroke-width="1.0" stroke-linecap="butt"/>
<text x="305.60" y="227.60" font-size="7.4" font-weight="bold" text-anchor="middle" fill="#1a1a1a" stroke="#1a1a1a" stroke-width="0.42">0</text>
<line x1="329.96" y1="217.70" x2="329.96" y2="220.30" stroke="#262626" stroke-width="1.0" stroke-linecap="butt"/>
<text x="329.96" y="227.60" font-size="7.4" font-weight="bold" text-anchor="middle" fill="#1a1a1a" stroke="#1a1a1a" stroke-width="0.42">20</text>
<line x1="354.32" y1="217.70" x2="354.32" y2="220.30" stroke="#262626" stroke-width="1.0" stroke-linecap="butt"/>
<text x="354.32" y="227.60" font-size="7.4" font-weight="bold" text-anchor="middle" fill="#1a1a1a" stroke="#1a1a1a" stroke-width="0.42">40</text>
<line x1="378.68" y1="217.70" x2="378.68" y2="220.30" stroke="#262626" stroke-width="1.0" stroke-linecap="butt"/>
<text x="378.68" y="227.60" font-size="7.4" font-weight="bold" text-anchor="middle" fill="#1a1a1a" stroke="#1a1a1a" stroke-width="0.42">60</text>
<line x1="403.04" y1="217.70" x2="403.04" y2="220.30" stroke="#262626" stroke-width="1.0" stroke-linecap="butt"/>
<text x="403.04" y="227.60" font-size="7.4" font-weight="bold" text-anchor="middle" fill="#1a1a1a" stroke="#1a1a1a" stroke-width="0.42">80</text>
<line x1="427.40" y1="217.70" x2="427.40" y2="220.30" stroke="#262626" stroke-width="1.0" stroke-linecap="butt"/>
<text x="427.40" y="227.60" font-size="7.4" font-weight="bold" text-anchor="middle" fill="#1a1a1a" stroke="#1a1a1a" stroke-width="0.42">100</text>
<polyline points="305.60,134.80 392.08,134.80 392.08,162.41 427.40,162.41 427.40,162.41" fill="none" stroke="#777" stroke-width="1.5" stroke-linejoin="miter"/>
<circle cx="427.40" cy="162.41" r="1.6" fill="#777" stroke="none" stroke-width="0"/>
<line x1="305.60" y1="134.80" x2="427.40" y2="134.80" stroke="#1414e6" stroke-width="1.7" stroke-linecap="butt" stroke-dasharray="4.5,1.8,1.4,1.8"/>
<circle cx="427.40" cy="134.80" r="2.6" fill="#1414e6" stroke="none" stroke-width="0"/>
<line x1="344.58" y1="134.80" x2="344.58" y2="217.70" stroke="#505050" stroke-width="1.3" stroke-linecap="butt" stroke-dasharray="1.2,2.1"/>
<circle cx="344.58" cy="217.70" r="1.9" fill="#a0a0a0" stroke="#606060" stroke-width="0.9"/>
<polyline points="347.38,134.80 347.38,134.80 347.38,167.96 349.45,167.96 349.45,201.12 351.52,201.12 351.52,217.70" fill="none" stroke="#d41d2a" stroke-width="1.7" stroke-linejoin="bevel" stroke-dasharray="5,1.8,1.2,1.8"/>
<circle cx="347.38" cy="167.96" r="2.5" fill="#d41d2a" stroke="none" stroke-width="0"/>
<circle cx="349.45" cy="201.12" r="2.5" fill="#d41d2a" stroke="none" stroke-width="0"/>
<circle cx="351.52" cy="217.70" r="2.5" fill="#d41d2a" stroke="none" stroke-width="0"/>
<polyline points="303.20,134.80 364.06,134.80 364.06,167.96 403.04,167.96 403.04,184.54 420.09,184.54 420.09,201.12 427.40,201.12 427.40,201.12" fill="none" stroke="#d41d2a" stroke-width="2.2" stroke-linejoin="miter"/>
<circle cx="364.06" cy="167.96" r="1.5" fill="#d41d2a" stroke="none" stroke-width="0"/>
<circle cx="403.04" cy="184.54" r="1.5" fill="#d41d2a" stroke="none" stroke-width="0"/>
<circle cx="420.09" cy="201.12" r="1.5" fill="#d41d2a" stroke="none" stroke-width="0"/>
<circle cx="427.40" cy="201.12" r="1.5" fill="#d41d2a" stroke="none" stroke-width="0"/>
<text x="369.60" y="245.90" font-size="8.1" font-weight="bold" text-anchor="middle" fill="#1a1a1a" stroke="#1a1a1a" stroke-width="0.42">Days</text>
<text transform="translate(279.60,175.20) rotate(-90)" font-size="8.0" font-weight="bold" text-anchor="middle" fill="#1a1a1a" stroke="#1a1a1a" stroke-width="0.42">Percent survival</text>
<line x1="324.50" y1="154.20" x2="324.50" y2="141.00" stroke="#141414" stroke-width="1.4" stroke-linecap="butt"/>
<polygon points="321.8,142.2 327.2,142.2 324.5,136.6" fill="#141414"/>
<text x="315.00" y="161.20" font-size="6.9" font-weight="normal" text-anchor="start" fill="#1e1e1e" stroke="#1e1e1e" stroke-width="0.32">CAR /</text>
<text x="315.00" y="169.20" font-size="6.9" font-weight="normal" text-anchor="start" fill="#1e1e1e" stroke="#1e1e1e" stroke-width="0.32">Mock</text>
<line x1="440.20" y1="167.50" x2="450.80" y2="167.50" stroke="#d41d2a" stroke-width="1.8" stroke-linecap="butt"/>
<circle cx="445.50" cy="167.50" r="1.4" fill="#d41d2a" stroke="none" stroke-width="0"/>
<line x1="440.20" y1="177.90" x2="443.50" y2="177.90" stroke="#d41d2a" stroke-width="1.7" stroke-linecap="butt"/>
<line x1="449.40" y1="177.90" x2="450.80" y2="177.90" stroke="#d41d2a" stroke-width="1.7" stroke-linecap="butt"/>
<rect x="443.2" y="175.60" width="4.6" height="4.6" rx="1.4" fill="#d41d2a"/>
<line x1="440.20" y1="188.50" x2="450.80" y2="188.50" stroke="#777" stroke-width="1.5" stroke-linecap="butt"/>
<circle cx="445.50" cy="188.50" r="1.4" fill="#777" stroke="none" stroke-width="0"/>
<line x1="440.20" y1="199.20" x2="441.40" y2="199.20" stroke="#555" stroke-width="1.2" stroke-linecap="butt"/>
<line x1="449.40" y1="199.20" x2="450.60" y2="199.20" stroke="#555" stroke-width="1.2" stroke-linecap="butt"/>
<circle cx="445.50" cy="199.20" r="1.8" fill="#e8e8e8" stroke="#555" stroke-width="1.0"/>
<line x1="440.20" y1="208.30" x2="443.50" y2="208.30" stroke="#1414e6" stroke-width="1.7" stroke-linecap="butt"/>
<line x1="449.40" y1="208.30" x2="450.80" y2="208.30" stroke="#1414e6" stroke-width="1.7" stroke-linecap="butt"/>
<circle cx="445.50" cy="208.30" r="2.4" fill="#1414e6" stroke="none" stroke-width="0"/>
<text x="455.60" y="169.70" font-size="6.9" fill="#1c1c1c" stroke="#1c1c1c" stroke-width="0.32" xml:space="preserve">B6</text>
<line x1="464.45" y1="167.35" x2="469.75" y2="167.35" stroke="#1c1c1c" stroke-width="0.6900000000000001" stroke-linecap="butt"/>
<polygon points="468.80,165.97 471.58,167.35 468.80,168.73" fill="#1c1c1c"/>
<text x="471.98" y="169.70" font-size="6.9" fill="#1c1c1c" stroke="#1c1c1c" stroke-width="0.32" xml:space="preserve">C3h.sw</text>
<text x="455.60" y="180.10" font-size="6.9" fill="#1c1c1c" stroke="#1c1c1c" stroke-width="0.32" xml:space="preserve">B6</text>
<line x1="464.45" y1="177.75" x2="469.75" y2="177.75" stroke="#1c1c1c" stroke-width="0.6900000000000001" stroke-linecap="butt"/>
<polygon points="468.80,176.37 471.58,177.75 468.80,179.13" fill="#1c1c1c"/>
<text x="471.98" y="180.10" font-size="6.9" fill="#1c1c1c" stroke="#1c1c1c" stroke-width="0.32" xml:space="preserve">C3h.sw mock</text>
<text x="455.60" y="190.70" font-size="6.9" fill="#1c1c1c" stroke="#1c1c1c" stroke-width="0.32" xml:space="preserve">B6</text>
<line x1="464.45" y1="188.35" x2="469.75" y2="188.35" stroke="#1c1c1c" stroke-width="0.6900000000000001" stroke-linecap="butt"/>
<polygon points="468.80,186.97 471.58,188.35 468.80,189.73" fill="#1c1c1c"/>
<text x="471.98" y="190.70" font-size="6.9" fill="#1c1c1c" stroke="#1c1c1c" stroke-width="0.32" xml:space="preserve">B6</text>
<text x="455.60" y="201.40" font-size="6.9" fill="#1c1c1c" stroke="#1c1c1c" stroke-width="0.32" xml:space="preserve">B6</text>
<line x1="464.45" y1="199.05" x2="469.75" y2="199.05" stroke="#1c1c1c" stroke-width="0.6900000000000001" stroke-linecap="butt"/>
<polygon points="468.80,197.67 471.58,199.05 468.80,200.43" fill="#1c1c1c"/>
<text x="471.98" y="201.40" font-size="6.9" fill="#1c1c1c" stroke="#1c1c1c" stroke-width="0.32" xml:space="preserve">B6 mock</text>
<text x="455.60" y="210.50" font-size="6.9" fill="#1c1c1c" stroke="#1c1c1c" stroke-width="0.32" xml:space="preserve">IL6</text>
<text x="465.19" y="208.43" font-size="5.52" fill="#1c1c1c" stroke="#1c1c1c" stroke-width="0.22399999999999998">-/-</text>
<line x1="470.82" y1="208.15" x2="476.12" y2="208.15" stroke="#1c1c1c" stroke-width="0.6900000000000001" stroke-linecap="butt"/>
<polygon points="475.16,206.77 477.94,208.15 475.16,209.53" fill="#1c1c1c"/>
<text x="478.34" y="210.50" font-size="6.9" fill="#1c1c1c" stroke="#1c1c1c" stroke-width="0.32" xml:space="preserve">C3h.sw</text>
<text x="266.30" y="255.40" font-size="10.5" font-weight="bold" text-anchor="start" fill="#1a1a1a" stroke="#1a1a1a" stroke-width="0.35">F</text>
<polyline points="307.90,334.00 312.40,334.00 323.64,328.03 334.88,334.00 346.12,334.00 350.61,326.24 357.36,314.60 363.20,319.57 368.60,308.13 379.39,309.62 384.33,296.19 388.15,296.19 397.37,309.12 404.56,294.20 410.18,290.22 415.80,292.21" fill="none" stroke="#d41d2a" stroke-width="1.5" stroke-linejoin="miter"/>
<line x1="323.64" y1="332.01" x2="323.64" y2="324.05" stroke="#d41d2a" stroke-width="1.0" stroke-linecap="butt"/>
<line x1="322.34" y1="324.05" x2="324.94" y2="324.05" stroke="#d41d2a" stroke-width="1.0" stroke-linecap="butt"/>
<line x1="322.34" y1="332.01" x2="324.94" y2="332.01" stroke="#d41d2a" stroke-width="1.0" stroke-linecap="butt"/>
<line x1="357.36" y1="319.07" x2="357.36" y2="310.12" stroke="#d41d2a" stroke-width="1.0" stroke-linecap="butt"/>
<line x1="356.06" y1="310.12" x2="358.66" y2="310.12" stroke="#d41d2a" stroke-width="1.0" stroke-linecap="butt"/>
<line x1="356.06" y1="319.07" x2="358.66" y2="319.07" stroke="#d41d2a" stroke-width="1.0" stroke-linecap="butt"/>
<line x1="368.60" y1="309.12" x2="368.60" y2="307.13" stroke="#d41d2a" stroke-width="1.0" stroke-linecap="butt"/>
<line x1="367.30" y1="307.13" x2="369.90" y2="307.13" stroke="#d41d2a" stroke-width="1.0" stroke-linecap="butt"/>
<line x1="367.30" y1="309.12" x2="369.90" y2="309.12" stroke="#d41d2a" stroke-width="1.0" stroke-linecap="butt"/>
<line x1="384.33" y1="299.67" x2="384.33" y2="292.71" stroke="#d41d2a" stroke-width="1.0" stroke-linecap="butt"/>
<line x1="383.03" y1="292.71" x2="385.63" y2="292.71" stroke="#d41d2a" stroke-width="1.0" stroke-linecap="butt"/>
<line x1="383.03" y1="299.67" x2="385.63" y2="299.67" stroke="#d41d2a" stroke-width="1.0" stroke-linecap="butt"/>
<line x1="388.15" y1="299.18" x2="388.15" y2="293.20" stroke="#d41d2a" stroke-width="1.0" stroke-linecap="butt"/>
<line x1="386.85" y1="293.20" x2="389.45" y2="293.20" stroke="#d41d2a" stroke-width="1.0" stroke-linecap="butt"/>
<line x1="386.85" y1="299.18" x2="389.45" y2="299.18" stroke="#d41d2a" stroke-width="1.0" stroke-linecap="butt"/>
<line x1="404.56" y1="297.19" x2="404.56" y2="291.22" stroke="#d41d2a" stroke-width="1.0" stroke-linecap="butt"/>
<line x1="403.26" y1="291.22" x2="405.86" y2="291.22" stroke="#d41d2a" stroke-width="1.0" stroke-linecap="butt"/>
<line x1="403.26" y1="297.19" x2="405.86" y2="297.19" stroke="#d41d2a" stroke-width="1.0" stroke-linecap="butt"/>
<line x1="410.18" y1="295.19" x2="410.18" y2="285.25" stroke="#d41d2a" stroke-width="1.0" stroke-linecap="butt"/>
<line x1="408.88" y1="285.25" x2="411.48" y2="285.25" stroke="#d41d2a" stroke-width="1.0" stroke-linecap="butt"/>
<line x1="408.88" y1="295.19" x2="411.48" y2="295.19" stroke="#d41d2a" stroke-width="1.0" stroke-linecap="butt"/>
<line x1="415.80" y1="299.67" x2="415.80" y2="284.75" stroke="#d41d2a" stroke-width="1.0" stroke-linecap="butt"/>
<line x1="414.50" y1="284.75" x2="417.10" y2="284.75" stroke="#d41d2a" stroke-width="1.0" stroke-linecap="butt"/>
<line x1="414.50" y1="299.67" x2="417.10" y2="299.67" stroke="#d41d2a" stroke-width="1.0" stroke-linecap="butt"/>
<rect x="306.70" y="332.80" width="2.4" height="2.4" fill="#d41d2a"/>
<rect x="311.20" y="332.80" width="2.4" height="2.4" fill="#d41d2a"/>
<rect x="322.44" y="326.83" width="2.4" height="2.4" fill="#d41d2a"/>
<rect x="333.68" y="332.80" width="2.4" height="2.4" fill="#d41d2a"/>
<rect x="344.92" y="332.80" width="2.4" height="2.4" fill="#d41d2a"/>
<rect x="349.41" y="325.04" width="2.4" height="2.4" fill="#d41d2a"/>
<rect x="356.16" y="313.40" width="2.4" height="2.4" fill="#d41d2a"/>
<rect x="362.00" y="318.37" width="2.4" height="2.4" fill="#d41d2a"/>
<rect x="367.40" y="306.93" width="2.4" height="2.4" fill="#d41d2a"/>
<rect x="378.19" y="308.42" width="2.4" height="2.4" fill="#d41d2a"/>
<rect x="383.13" y="294.99" width="2.4" height="2.4" fill="#d41d2a"/>
<rect x="386.95" y="294.99" width="2.4" height="2.4" fill="#d41d2a"/>
<rect x="396.17" y="307.93" width="2.4" height="2.4" fill="#d41d2a"/>
<rect x="403.36" y="293.00" width="2.4" height="2.4" fill="#d41d2a"/>
<rect x="408.98" y="289.02" width="2.4" height="2.4" fill="#d41d2a"/>
<rect x="414.60" y="291.01" width="2.4" height="2.4" fill="#d41d2a"/>
<polyline points="307.90,334.00 312.40,334.00 323.64,330.02 334.88,334.00 346.12,334.00 350.61,329.52 357.36,319.07 363.20,323.55 368.60,326.04 373.09,325.74 379.39,326.04 384.33,301.17 388.15,305.14 397.37,316.09 404.56,316.09 410.18,323.55 415.80,311.12" fill="none" stroke="#1d1d98" stroke-width="1.35" stroke-linejoin="miter" stroke-dasharray="3,1.3,1,1.3"/>
<line x1="357.36" y1="322.06" x2="357.36" y2="316.09" stroke="#1d1d98" stroke-width="0.9" stroke-linecap="butt"/>
<line x1="356.26" y1="316.09" x2="358.46" y2="316.09" stroke="#1d1d98" stroke-width="0.9" stroke-linecap="butt"/>
<line x1="356.26" y1="322.06" x2="358.46" y2="322.06" stroke="#1d1d98" stroke-width="0.9" stroke-linecap="butt"/>
<line x1="363.20" y1="326.04" x2="363.20" y2="321.06" stroke="#1d1d98" stroke-width="0.9" stroke-linecap="butt"/>
<line x1="362.10" y1="321.06" x2="364.30" y2="321.06" stroke="#1d1d98" stroke-width="0.9" stroke-linecap="butt"/>
<line x1="362.10" y1="326.04" x2="364.30" y2="326.04" stroke="#1d1d98" stroke-width="0.9" stroke-linecap="butt"/>
<line x1="368.60" y1="328.03" x2="368.60" y2="324.05" stroke="#1d1d98" stroke-width="0.9" stroke-linecap="butt"/>
<line x1="367.50" y1="324.05" x2="369.70" y2="324.05" stroke="#1d1d98" stroke-width="0.9" stroke-linecap="butt"/>
<line x1="367.50" y1="328.03" x2="369.70" y2="328.03" stroke="#1d1d98" stroke-width="0.9" stroke-linecap="butt"/>
<line x1="373.09" y1="327.23" x2="373.09" y2="324.25" stroke="#1d1d98" stroke-width="0.9" stroke-linecap="butt"/>
<line x1="371.99" y1="324.25" x2="374.19" y2="324.25" stroke="#1d1d98" stroke-width="0.9" stroke-linecap="butt"/>
<line x1="371.99" y1="327.23" x2="374.19" y2="327.23" stroke="#1d1d98" stroke-width="0.9" stroke-linecap="butt"/>
<line x1="379.39" y1="328.03" x2="379.39" y2="324.05" stroke="#1d1d98" stroke-width="0.9" stroke-linecap="butt"/>
<line x1="378.29" y1="324.05" x2="380.49" y2="324.05" stroke="#1d1d98" stroke-width="0.9" stroke-linecap="butt"/>
<line x1="378.29" y1="328.03" x2="380.49" y2="328.03" stroke="#1d1d98" stroke-width="0.9" stroke-linecap="butt"/>
<line x1="384.33" y1="304.15" x2="384.33" y2="298.18" stroke="#1d1d98" stroke-width="0.9" stroke-linecap="butt"/>
<line x1="383.23" y1="298.18" x2="385.43" y2="298.18" stroke="#1d1d98" stroke-width="0.9" stroke-linecap="butt"/>
<line x1="383.23" y1="304.15" x2="385.43" y2="304.15" stroke="#1d1d98" stroke-width="0.9" stroke-linecap="butt"/>
<line x1="388.15" y1="308.13" x2="388.15" y2="302.16" stroke="#1d1d98" stroke-width="0.9" stroke-linecap="butt"/>
<line x1="387.05" y1="302.16" x2="389.25" y2="302.16" stroke="#1d1d98" stroke-width="0.9" stroke-linecap="butt"/>
<line x1="387.05" y1="308.13" x2="389.25" y2="308.13" stroke="#1d1d98" stroke-width="0.9" stroke-linecap="butt"/>
<line x1="397.37" y1="319.07" x2="397.37" y2="313.11" stroke="#1d1d98" stroke-width="0.9" stroke-linecap="butt"/>
<line x1="396.27" y1="313.11" x2="398.47" y2="313.11" stroke="#1d1d98" stroke-width="0.9" stroke-linecap="butt"/>
<line x1="396.27" y1="319.07" x2="398.47" y2="319.07" stroke="#1d1d98" stroke-width="0.9" stroke-linecap="butt"/>
<line x1="404.56" y1="318.08" x2="404.56" y2="314.10" stroke="#1d1d98" stroke-width="0.9" stroke-linecap="butt"/>
<line x1="403.46" y1="314.10" x2="405.66" y2="314.10" stroke="#1d1d98" stroke-width="0.9" stroke-linecap="butt"/>
<line x1="403.46" y1="318.08" x2="405.66" y2="318.08" stroke="#1d1d98" stroke-width="0.9" stroke-linecap="butt"/>
<polygon points="307.90,332.30 309.60,335.36 306.20,335.36" fill="#1d1d98"/>
<polygon points="312.40,332.30 314.10,335.36 310.70,335.36" fill="#1d1d98"/>
<polygon points="323.64,328.32 325.34,331.38 321.94,331.38" fill="#1d1d98"/>
<polygon points="334.88,332.30 336.58,335.36 333.18,335.36" fill="#1d1d98"/>
<polygon points="346.12,332.30 347.82,335.36 344.42,335.36" fill="#1d1d98"/>
<polygon points="350.61,327.82 352.31,330.88 348.91,330.88" fill="#1d1d98"/>
<polygon points="357.36,317.38 359.06,320.44 355.66,320.44" fill="#1d1d98"/>
<polygon points="363.20,321.85 364.90,324.91 361.50,324.91" fill="#1d1d98"/>
<polygon points="368.60,324.34 370.30,327.40 366.90,327.40" fill="#1d1d98"/>
<polygon points="373.09,324.04 374.79,327.10 371.39,327.10" fill="#1d1d98"/>
<polygon points="379.39,324.34 381.09,327.40 377.69,327.40" fill="#1d1d98"/>
<polygon points="384.33,299.47 386.03,302.53 382.63,302.53" fill="#1d1d98"/>
<polygon points="388.15,303.44 389.85,306.50 386.45,306.50" fill="#1d1d98"/>
<polygon points="397.37,314.39 399.07,317.45 395.67,317.45" fill="#1d1d98"/>
<polygon points="404.56,314.39 406.26,317.45 402.86,317.45" fill="#1d1d98"/>
<polygon points="410.18,321.85 411.88,324.91 408.48,324.91" fill="#1d1d98"/>
<polygon points="415.80,309.42 417.50,312.48 414.10,312.48" fill="#1d1d98"/>
<line x1="307.90" y1="334.00" x2="415.80" y2="334.00" stroke="#6a6a6a" stroke-width="1.3" stroke-linecap="butt"/>
<circle cx="307.90" cy="334.00" r="1.05" fill="#5a5a5a" stroke="none" stroke-width="0"/>
<circle cx="312.40" cy="334.00" r="1.05" fill="#5a5a5a" stroke="none" stroke-width="0"/>
<circle cx="323.64" cy="334.00" r="1.05" fill="#5a5a5a" stroke="none" stroke-width="0"/>
<circle cx="334.88" cy="334.00" r="1.05" fill="#5a5a5a" stroke="none" stroke-width="0"/>
<circle cx="346.12" cy="334.00" r="1.05" fill="#5a5a5a" stroke="none" stroke-width="0"/>
<circle cx="350.61" cy="334.00" r="1.05" fill="#5a5a5a" stroke="none" stroke-width="0"/>
<circle cx="357.36" cy="334.00" r="1.05" fill="#5a5a5a" stroke="none" stroke-width="0"/>
<circle cx="364.10" cy="334.00" r="1.05" fill="#5a5a5a" stroke="none" stroke-width="0"/>
<circle cx="368.60" cy="334.00" r="1.05" fill="#5a5a5a" stroke="none" stroke-width="0"/>
<circle cx="373.09" cy="334.00" r="1.05" fill="#5a5a5a" stroke="none" stroke-width="0"/>
<circle cx="379.84" cy="334.00" r="1.05" fill="#5a5a5a" stroke="none" stroke-width="0"/>
<circle cx="384.33" cy="334.00" r="1.05" fill="#5a5a5a" stroke="none" stroke-width="0"/>
<circle cx="388.83" cy="334.00" r="1.05" fill="#5a5a5a" stroke="none" stroke-width="0"/>
<circle cx="393.32" cy="334.00" r="1.05" fill="#5a5a5a" stroke="none" stroke-width="0"/>
<circle cx="397.82" cy="334.00" r="1.05" fill="#5a5a5a" stroke="none" stroke-width="0"/>
<circle cx="404.56" cy="334.00" r="1.05" fill="#5a5a5a" stroke="none" stroke-width="0"/>
<circle cx="411.31" cy="334.00" r="1.05" fill="#5a5a5a" stroke="none" stroke-width="0"/>
<circle cx="415.80" cy="334.00" r="1.05" fill="#5a5a5a" stroke="none" stroke-width="0"/>
<line x1="307.90" y1="254.40" x2="307.90" y2="343.90" stroke="#262626" stroke-width="1.5" stroke-linecap="butt"/>
<line x1="305.10" y1="334.00" x2="307.90" y2="334.00" stroke="#262626" stroke-width="1.0" stroke-linecap="butt"/>
<text x="305.00" y="336.10" font-size="6.9" font-weight="bold" text-anchor="end" fill="#1a1a1a" stroke="#1a1a1a" stroke-width="0.42">0</text>
<line x1="305.10" y1="314.10" x2="307.90" y2="314.10" stroke="#262626" stroke-width="1.0" stroke-linecap="butt"/>
<text x="305.00" y="316.20" font-size="6.9" font-weight="bold" text-anchor="end" fill="#1a1a1a" stroke="#1a1a1a" stroke-width="0.42">2</text>
<line x1="305.10" y1="294.20" x2="307.90" y2="294.20" stroke="#262626" stroke-width="1.0" stroke-linecap="butt"/>
<text x="305.00" y="296.30" font-size="6.9" font-weight="bold" text-anchor="end" fill="#1a1a1a" stroke="#1a1a1a" stroke-width="0.42">4</text>
<line x1="305.10" y1="274.30" x2="307.90" y2="274.30" stroke="#262626" stroke-width="1.0" stroke-linecap="butt"/>
<text x="305.00" y="276.40" font-size="6.9" font-weight="bold" text-anchor="end" fill="#1a1a1a" stroke="#1a1a1a" stroke-width="0.42">6</text>
<line x1="305.10" y1="254.40" x2="307.90" y2="254.40" stroke="#262626" stroke-width="1.0" stroke-linecap="butt"/>
<text x="305.00" y="256.50" font-size="6.9" font-weight="bold" text-anchor="end" fill="#1a1a1a" stroke="#1a1a1a" stroke-width="0.42">8</text>
<line x1="307.20" y1="343.90" x2="443.28" y2="343.90" stroke="#262626" stroke-width="1.4" stroke-linecap="butt"/>
<line x1="307.90" y1="343.90" x2="307.90" y2="346.80" stroke="#262626" stroke-width="1.0" stroke-linecap="butt"/>
<text x="307.90" y="353.90" font-size="6.9" font-weight="bold" text-anchor="middle" fill="#1a1a1a" stroke="#1a1a1a" stroke-width="0.42">0</text>
<line x1="330.38" y1="343.90" x2="330.38" y2="346.80" stroke="#262626" stroke-width="1.0" stroke-linecap="butt"/>
<text x="330.38" y="353.90" font-size="6.9" font-weight="bold" text-anchor="middle" fill="#1a1a1a" stroke="#1a1a1a" stroke-width="0.42">10</text>
<line x1="352.86" y1="343.90" x2="352.86" y2="346.80" stroke="#262626" stroke-width="1.0" stroke-linecap="butt"/>
<text x="352.86" y="353.90" font-size="6.9" font-weight="bold" text-anchor="middle" fill="#1a1a1a" stroke="#1a1a1a" stroke-width="0.42">20</text>
<line x1="375.34" y1="343.90" x2="375.34" y2="346.80" stroke="#262626" stroke-width="1.0" stroke-linecap="butt"/>
<text x="375.34" y="353.90" font-size="6.9" font-weight="bold" text-anchor="middle" fill="#1a1a1a" stroke="#1a1a1a" stroke-width="0.42">30</text>
<line x1="397.82" y1="343.90" x2="397.82" y2="346.80" stroke="#262626" stroke-width="1.0" stroke-linecap="butt"/>
<text x="397.82" y="353.90" font-size="6.9" font-weight="bold" text-anchor="middle" fill="#1a1a1a" stroke="#1a1a1a" stroke-width="0.42">40</text>
<line x1="420.30" y1="343.90" x2="420.30" y2="346.80" stroke="#262626" stroke-width="1.0" stroke-linecap="butt"/>
<text x="420.30" y="353.90" font-size="6.9" font-weight="bold" text-anchor="middle" fill="#1a1a1a" stroke="#1a1a1a" stroke-width="0.42">50</text>
<line x1="442.78" y1="343.90" x2="442.78" y2="346.80" stroke="#262626" stroke-width="1.0" stroke-linecap="butt"/>
<text x="442.78" y="353.90" font-size="6.9" font-weight="bold" text-anchor="middle" fill="#1a1a1a" stroke="#1a1a1a" stroke-width="0.42">60</text>
<text x="375.60" y="362.80" font-size="7.3" font-weight="bold" text-anchor="middle" fill="#1a1a1a" stroke="#1a1a1a" stroke-width="0.42">Days</text>
<text transform="translate(285.90,298.80) rotate(-90)" font-size="7.5" font-weight="bold" text-anchor="middle" fill="#1a1a1a" stroke="#1a1a1a" stroke-width="0.42">Average Clinical</text>
<text transform="translate(293.50,298.40) rotate(-90)" font-size="7.6" font-weight="bold" text-anchor="middle" fill="#1a1a1a" stroke="#1a1a1a" stroke-width="0.42">GVHD Score</text>
<text x="337.90" y="295.40" font-size="7.2" font-weight="normal" text-anchor="start" fill="#1e1e1e" stroke="#1e1e1e" stroke-width="0.32">CAR</text>
<line x1="346.00" y1="300.30" x2="346.00" y2="324.00" stroke="#141414" stroke-width="1.5" stroke-linecap="butt"/>
<polygon points="343.1,322.0 348.9,322.0 346.0,328.5" fill="#141414"/>
<line x1="456.20" y1="310.80" x2="466.90" y2="310.80" stroke="#d41d2a" stroke-width="1.7" stroke-linecap="butt"/>
<rect x="460.45" y="309.75" width="2.1" height="2.1" fill="#d41d2a"/>
<line x1="456.20" y1="320.00" x2="466.90" y2="320.00" stroke="#1d1d98" stroke-width="1.4" stroke-linecap="butt" stroke-dasharray="3,1.3"/>
<polygon points="461.50,318.50 463.00,321.20 460.00,321.20" fill="#1d1d98"/>
<line x1="456.20" y1="329.20" x2="466.90" y2="329.20" stroke="#666" stroke-width="1.3" stroke-linecap="butt"/>
<circle cx="461.50" cy="329.20" r="1.0" fill="#666" stroke="none" stroke-width="0"/>
<text x="471.50" y="313.00" font-size="7.0" fill="#1c1c1c" stroke="#1c1c1c" stroke-width="0.32" xml:space="preserve">B6</text>
<line x1="480.48" y1="310.62" x2="485.86" y2="310.62" stroke="#1c1c1c" stroke-width="0.7000000000000001" stroke-linecap="butt"/>
<polygon points="484.89,309.22 487.71,310.62 484.89,312.02" fill="#1c1c1c"/>
<text x="488.11" y="313.00" font-size="7.0" fill="#1c1c1c" stroke="#1c1c1c" stroke-width="0.32" xml:space="preserve">C3h.sw</text>
<text x="471.50" y="322.20" font-size="7.0" fill="#1c1c1c" stroke="#1c1c1c" stroke-width="0.32" xml:space="preserve">IL6</text>
<text x="481.23" y="320.10" font-size="5.60" fill="#1c1c1c" stroke="#1c1c1c" stroke-width="0.22399999999999998">-/-</text>
<line x1="486.94" y1="319.82" x2="492.31" y2="319.82" stroke="#1c1c1c" stroke-width="0.7000000000000001" stroke-linecap="butt"/>
<polygon points="491.35,318.42 494.16,319.82 491.35,321.22" fill="#1c1c1c"/>
<text x="494.57" y="322.20" font-size="7.0" fill="#1c1c1c" stroke="#1c1c1c" stroke-width="0.32" xml:space="preserve">C3h.sw</text>
<text x="471.50" y="331.40" font-size="7.0" fill="#1c1c1c" stroke="#1c1c1c" stroke-width="0.32" xml:space="preserve">B6</text>
<line x1="480.48" y1="329.02" x2="485.86" y2="329.02" stroke="#1c1c1c" stroke-width="0.7000000000000001" stroke-linecap="butt"/>
<polygon points="484.89,327.62 487.71,329.02 484.89,330.42" fill="#1c1c1c"/>
<text x="488.11" y="331.40" font-size="7.0" fill="#1c1c1c" stroke="#1c1c1c" stroke-width="0.32" xml:space="preserve">B6</text>
</svg>
</body></html>
